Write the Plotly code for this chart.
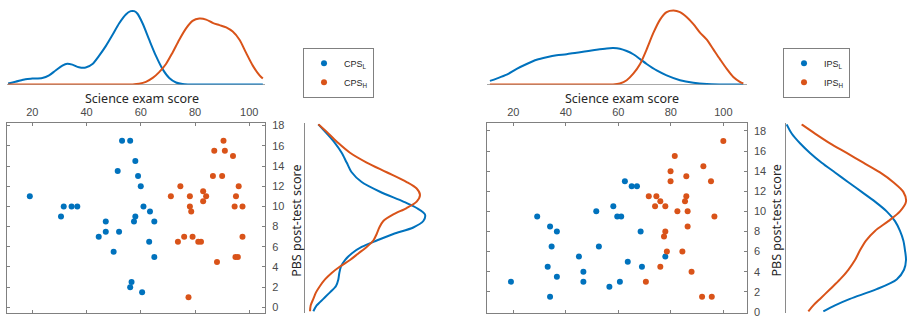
import plotly.graph_objects as go

# ---------------- data ----------------
# Left panel (CPS) scatter
cps_low_x = [19.1, 30.6, 31.6, 34.5, 36.6, 44.5, 47.1, 47.1, 50.0, 51.5, 52.0, 53.1, 56.1,
             56.1, 56.6, 58.0, 58.0, 57.5, 59.0, 60.0, 60.5, 61.0, 63.1, 63.4, 65.0, 65.0]
cps_low_y = [11, 9, 10, 10, 10, 7, 8.5, 7.5, 5.5, 13.5, 7.5, 16.5, 16.5,
             2, 2.5, 14.5, 9, 8.5, 13, 12, 1.5, 10, 6.5, 9.5, 8.5, 5]
cps_high_x = [71.1, 74.6, 76.0, 73.7, 78.1, 78.1, 78.6, 79.1, 77.6, 81.2, 82.2, 83.0, 83.0, 84.1,
              86.6, 87.1, 88.1, 90.0, 90.5, 91.0, 94.0, 94.6, 95.1, 96.1, 94.9, 95.8, 97.5, 97.5]
cps_high_y = [11, 12, 7, 6.5, 11, 10, 9.5, 7, 1, 6.5, 6.5, 11.5, 10.5, 11,
              13, 15.5, 4.5, 13, 16.5, 15.5, 15, 10, 11, 12, 5, 5, 10, 7]

# Right panel (IPS) scatter
ips_low_x = [19.1, 29.1, 33.1, 34.0, 34.0, 34.6, 36.6, 36.6, 45.0, 46.7, 46.7, 51.6, 52.6,
             56.6, 58.1, 59.6, 61.1, 60.6, 62.5, 63.6, 65.1, 67.1, 68.5, 69.0, 77.9]
ips_low_y = [3, 9.5, 4.5, 8.5, 1.5, 6.5, 8, 3.5, 5.5, 4, 3, 10, 6.5,
             2.5, 10.5, 9.5, 9.5, 3, 13, 5, 12.5, 12.5, 8, 4.5, 5.5]
ips_high_x = [70.5, 71.6, 74.0, 74.5, 76.0, 76.0, 77.4, 77.9, 77.9, 78.5, 79.9, 79.9, 81.5, 82.5,
              84.4, 85.4, 85.9, 85.9, 86.4, 86.4, 87.9, 91.9, 92.4, 95.3, 95.6, 96.6, 100.0]
ips_high_y = [3, 11.5, 10.5, 11.5, 11, 4.5, 7.5, 8, 10.5, 6, 13, 14, 15.5, 10,
              6, 11, 11.5, 13.5, 10, 8.5, 4, 1.5, 14.5, 13, 1.5, 9.5, 17]

# Marginal densities (relative heights)
cps_top_low_x = [11.1, 13.8, 17.5, 20, 23.7, 26.2, 28.6, 31.1, 32.9, 34.8, 37.2, 39.7, 42.2, 44.6,
                 47.1, 49.6, 52.0, 54.5, 56.3, 57.6, 58.8, 60.7, 63.1, 65.6, 68.0, 70.5, 73.0,
                 75.4, 77.9, 90, 105]
cps_top_low_d = [3, 8, 16, 18, 20, 28, 43, 58, 64, 61, 53, 52, 63, 88,
                 118, 153, 188, 216, 226, 226, 218, 188, 138, 88, 48, 20, 6,
                 1, 0, 0, 0]
cps_top_high_x = [11.1, 30, 50, 57, 59.4, 61.9, 64.4, 66.8, 69.3, 71.7, 74.2, 76.7, 79.1, 81.6,
                  84.1, 86.5, 89.0, 91.5, 93.9, 96.4, 98.8, 101.3, 103.8, 105]
cps_top_high_d = [0, 0, 0, 0, 2, 8, 20, 38, 63, 98, 138, 173, 196, 203,
                  200, 190, 183, 176, 163, 138, 98, 58, 28, 18]

ips_top_low_x = [11.1, 13.65, 17.5, 21.3, 25.1, 28.9, 32.7, 36.5, 40.3, 44.1, 47.9, 51.7, 55.6,
                 58.1, 60.6, 63.2, 65.7, 68.3, 70.8, 74.6, 78.4, 83.5, 88.6, 93.7, 98.7, 107.6]
ips_top_low_d = [11, 18, 30, 48, 63, 76, 84, 90, 93, 98, 102, 107, 111,
                 112, 110, 103, 93, 78, 63, 43, 28, 13, 5, 1, 0, 0]
ips_top_high_x = [11.1, 40, 58, 60.6, 63.2, 65.7, 68.3, 70.8, 73.3, 75.9, 78.4, 81.0, 83.5, 86.0,
                  88.6, 91.1, 93.7, 96.2, 98.7, 101.3, 103.8, 106.3, 107.6]
ips_top_high_d = [0, 0, 0, 3, 13, 33, 63, 108, 158, 200, 223, 228, 223, 208,
                  186, 160, 138, 108, 78, 48, 23, 8, 3]

cps_side_low_y = [18.13, 17.23, 16.27, 15.31, 14.34, 13.38, 12.41, 11.45, 10.48, 9.84, 9.20, 8.55,
                  7.91, 7.27, 6.62, 5.98, 5.34, 4.69, 4.05, 3.41, 2.77, 2.12, 1.48, 0.84, 0.19, -0.39]
cps_side_low_d = [40, 65, 90, 110, 125, 140, 170, 225, 295, 335, 360, 355,
                  325, 265, 215, 170, 140, 120, 108, 103, 100, 93, 75, 55, 35, 25]
cps_side_high_y = [18.13, 17.23, 16.27, 15.31, 14.34, 13.38, 12.41, 11.77, 11.13, 10.48, 9.84, 9.20,
                   8.55, 7.91, 7.27, 6.62, 5.98, 5.34, 4.69, 4.05, 3.41, 2.77, 2.12, 1.48, 0.84,
                   0.19, -0.39]
cps_side_high_d = [40, 70, 100, 135, 185, 245, 305, 335, 345, 335, 305, 265,
                   235, 223, 215, 205, 185, 160, 135, 105, 80, 60, 45, 33, 25, 17, 15]

ips_side_y = [18.65, 17.74, 16.77, 15.81, 14.84, 13.87, 12.90, 11.94, 10.97, 10.0, 9.03, 8.06,
              7.10, 6.13, 5.16, 4.19, 3.23, 2.26, 1.29, 0.65, 0.06]
ips_side_low_d = [2, 17, 42, 72, 107, 147, 187, 227, 267, 302, 327, 342,
                  352, 357, 360, 354, 332, 272, 192, 147, 112]
ips_side_high_d = [47, 87, 132, 182, 232, 282, 322, 352, 360, 342, 307, 267,
                   240, 222, 207, 187, 162, 132, 102, 82, 67]

x_ticks = [20, 40, 60, 80, 100]
y_ticks = [0, 2, 4, 6, 8, 10, 12, 14, 16, 18]

# ---------------- style ----------------
BLUE = "#0072BD"
ORANGE = "#D95319"
W, H = 910, 325
TICKFONT = dict(family="Liberation Sans, Arial", size=11, color="#4a4a4a")
LABELFONT = dict(family="Noto Sans", size=12.5, color="#262626")
FRAME = "#808080"

fig = go.Figure()

def scatter(x, y, color, name, xa, ya, legend):
    fig.add_trace(go.Scatter(x=x, y=y, mode="markers", name=name,
                             marker=dict(color=color, size=6),
                             xaxis=xa, yaxis=ya, legend=legend))

def line(x, y, color, xa, ya):
    fig.add_trace(go.Scatter(x=x, y=y, mode="lines", showlegend=False, hoverinfo="skip",
                             line=dict(color=color, width=2, shape="spline", smoothing=0.8),
                             xaxis=xa, yaxis=ya))

# left panel
scatter(cps_low_x, cps_low_y, BLUE, "CPS<sub>L</sub>", "x", "y", "legend")
scatter(cps_high_x, cps_high_y, ORANGE, "CPS<sub>H</sub>", "x", "y", "legend")
line(cps_top_low_x, cps_top_low_d, BLUE, "x2", "y2")
line(cps_top_high_x, cps_top_high_d, ORANGE, "x2", "y2")
line(cps_side_low_d, cps_side_low_y, BLUE, "x3", "y3")
line(cps_side_high_d, cps_side_high_y, ORANGE, "x3", "y3")

# right panel
scatter(ips_low_x, ips_low_y, BLUE, "IPS<sub>L</sub>", "x4", "y4", "legend2")
scatter(ips_high_x, ips_high_y, ORANGE, "IPS<sub>H</sub>", "x4", "y4", "legend2")
line(ips_top_low_x, ips_top_low_d, BLUE, "x5", "y5")
line(ips_top_high_x, ips_top_high_d, ORANGE, "x5", "y5")
line(ips_side_low_d, ips_side_y, BLUE, "x6", "y6")
line(ips_side_high_d, ips_side_y, ORANGE, "x6", "y6")

# geometry
L_X = [7.3 / W, 265 / W]
R_X = [487.3 / W, 746.7 / W]
SC_Y = [1 - 317.3 / H, 1 - 122.8 / H]
TOP_Y = [1 - 82.7 / H, 1 - 2.7 / H]
L_SIDE_X = [305 / W, 455 / W]
R_SIDE_X = [786 / W, 910 / W]
L_XR = [10.8, 105.8]
R_XR = [10.1, 108.9]
L_YR = [-0.51, 18.22]
R_YR = [-0.06, 18.75]

def sc_x(dom, rng, anchor):
    return dict(domain=dom, range=rng, side="top", ticks="inside", ticklen=3, tickcolor=FRAME,
                tickvals=x_ticks, showline=True, linecolor=FRAME, linewidth=1, mirror="allticks",
                showgrid=False, zeroline=False, tickfont=TICKFONT, ticklabelstandoff=2,
                anchor=anchor)

def sc_y(dom, rng, anchor):
    return dict(domain=dom, range=rng, side="right", ticks="inside", ticklen=3, tickcolor=FRAME,
                tickvals=y_ticks, showline=True, linecolor=FRAME, linewidth=1, mirror="allticks",
                showgrid=False, zeroline=False, tickfont=TICKFONT, anchor=anchor,
                ticklabelstandoff=4)

def top_x(dom, rng, anchor):
    return dict(domain=dom, range=rng, anchor=anchor, showline=True, linecolor="#a8a8a8",
                linewidth=1, showticklabels=False, ticks="", showgrid=False, zeroline=False,
                layer="below traces")

def top_y(anchor):
    return dict(domain=TOP_Y, range=[0, 240], anchor=anchor, visible=False)

def side_x(dom, rng, anchor):
    return dict(domain=dom, range=rng, anchor=anchor, visible=False)

def side_y(rng, anchor):
    return dict(domain=SC_Y, range=rng, anchor=anchor, showline=True, linecolor="#8a8a8a",
                linewidth=1, showticklabels=False, ticks="", showgrid=False, zeroline=False,
                layer="below traces")

legend_style = dict(xanchor="left", yanchor="top", bordercolor=FRAME, borderwidth=1,
                    bgcolor="white", font=dict(family="Liberation Sans, Arial", size=9,
                                               color="#262626"),
                    tracegroupgap=0, itemwidth=30)

fig.update_layout(
    width=W, height=H, margin=dict(l=0, r=0, t=0, b=0),
    paper_bgcolor="white", plot_bgcolor="rgba(0,0,0,0)",
    xaxis=sc_x(L_X, L_XR, "y"), yaxis=sc_y(SC_Y, L_YR, "x"),
    xaxis2=top_x(L_X, L_XR, "y2"), yaxis2=top_y("x2"),
    xaxis3=side_x(L_SIDE_X, [0, 450], "y3"), yaxis3=side_y(L_YR, "x3"),
    xaxis4=sc_x(R_X, R_XR, "y4"), yaxis4=sc_y(SC_Y, R_YR, "x4"),
    xaxis5=top_x(R_X, R_XR, "y5"), yaxis5=top_y("x5"),
    xaxis6=side_x(R_SIDE_X, [0, 372], "y6"), yaxis6=side_y(R_YR, "x6"),
    legend=dict(x=303 / W, y=1 - 45 / H, **legend_style),
    legend2=dict(x=783 / W, y=1 - 45 / H, **legend_style),
    showlegend=True,
)

annotations = [
    dict(text="Science exam score", x=141.7 / W, y=1 - 96.7 / H),
    dict(text="Science exam score", x=621.7 / W, y=1 - 96.7 / H),
    dict(text="PBS post-test score", x=297 / W, y=1 - 223 / H, textangle=-90),
    dict(text="PBS post-test score", x=776.7 / W, y=1 - 223 / H, textangle=-90),
]
for a in annotations:
    fig.add_annotation(xref="paper", yref="paper", showarrow=False, xanchor="center",
                       yanchor="middle", font=LABELFONT, **a)

fig.write_html("out.html",
               config={"displayModeBar": False},
               post_script="document.body.style.margin='0';document.body.style.overflow='hidden';")
